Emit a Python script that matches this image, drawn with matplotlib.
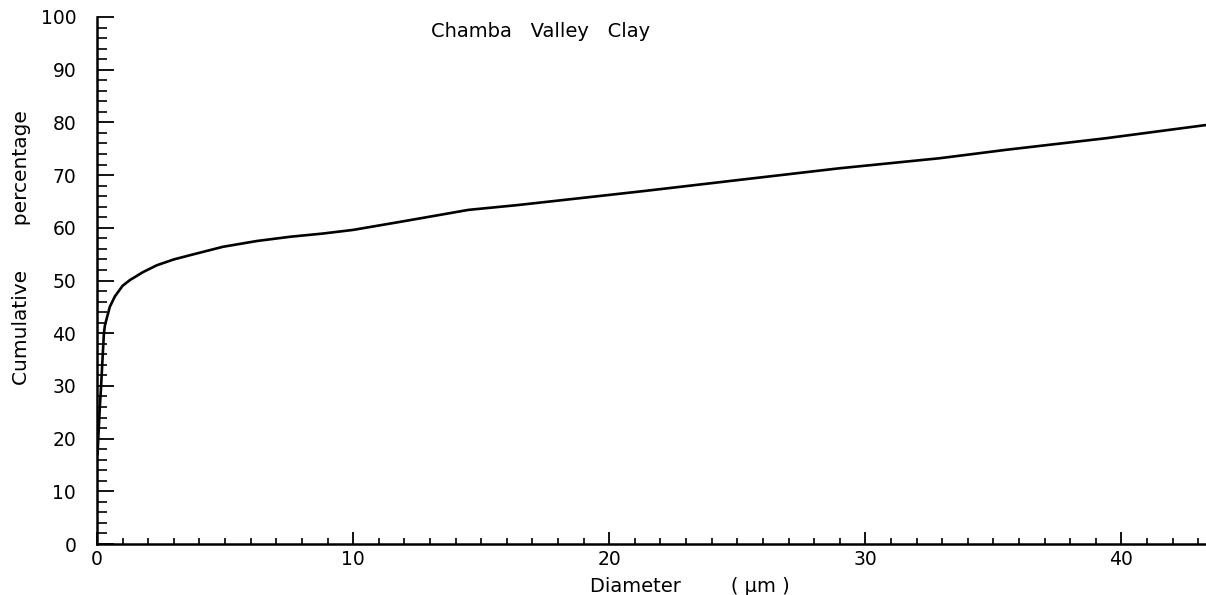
import matplotlib
matplotlib.use("Agg")
import matplotlib.pyplot as plt
from matplotlib.ticker import MultipleLocator

# Data
diameter = [0.02, 0.1, 0.16, 0.22, 0.27, 0.31, 0.39, 0.5, 0.7, 1.0, 1.29, 1.8, 2.34,
            3.0, 3.63, 4.92, 6.25, 7.54, 8.8, 10.0, 11.8, 13.8, 14.5, 16.4, 19.0,
            21.4, 25.1, 29.0, 32.9, 35.5, 39.4, 43.3]
cumulative = [17.0, 25.0, 30.0, 35.5, 40.0, 41.5, 43.0, 45.0, 47.0, 49.0, 50.1, 51.6, 52.9,
              54.0, 54.8, 56.4, 57.5, 58.3, 58.9, 59.6, 61.1, 62.8, 63.4, 64.3, 65.7,
              67.0, 69.1, 71.3, 73.2, 74.8, 77.0, 79.5]
x_ticks = [0, 10, 20, 30, 40]
y_ticks = [0, 10, 20, 30, 40, 50, 60, 70, 80, 90, 100]
title_text = "Chamba   Valley   Clay"
x_label = "Diameter        ( µm )"
y_label = "Cumulative       percentage"

W, H = 1206, 595
fig = plt.figure(figsize=(W / 100, H / 100), dpi=100)
left = 97 / W
bottom = 1 - 544 / H
top = 1 - 17 / H
ax = fig.add_axes([left, bottom, 1.0 - left, top - bottom])

ax.plot(diameter, cumulative, color="black", lw=1.9, solid_capstyle="round")

ax.set_xlim(0, 43.3)
ax.set_ylim(0, 100)
for s in ("top", "right"):
    ax.spines[s].set_visible(False)
for s in ("left", "bottom"):
    ax.spines[s].set_linewidth(1.8)
    ax.spines[s].set_color("black")

ax.set_xticks(x_ticks)
ax.set_yticks(y_ticks)
ax.xaxis.set_minor_locator(MultipleLocator(1))
ax.yaxis.set_minor_locator(MultipleLocator(2))
ax.tick_params(axis="x", which="major", direction="in", length=9, width=1.3,
               labelsize=13.5, pad=4)
ax.tick_params(axis="x", which="minor", direction="in", length=4, width=1.2)
ax.tick_params(axis="y", which="major", direction="in", length=12, width=1.3,
               labelsize=13.5, pad=15)
ax.tick_params(axis="y", which="minor", direction="in", length=7, width=1.2)

ax.text(17.3, 97.2, title_text, fontsize=14, ha="center", va="center")
fig.text(690 / W, 1 - 586 / H, x_label, fontsize=14, ha="center", va="center")
fig.text(22 / W, 1 - 248 / H, y_label, fontsize=14.5, ha="center", va="center",
         rotation=90)

fig.savefig("out.png", dpi=100)
